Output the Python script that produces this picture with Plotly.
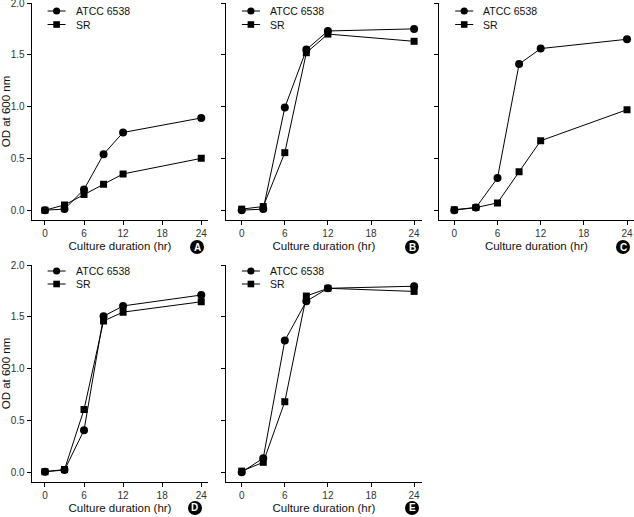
import plotly.graph_objects as go

hours = [0, 3, 6, 9, 12, 24]
x_ticks = [0, 6, 12, 18, 24]
y_ticks = [0.0, 0.5, 1.0, 1.5, 2.0]
y_tick_labels = ["0.0", "0.5", "1.0", "1.5", "2.0"]
panel_letters = ["A", "B", "C", "D", "E"]
series_names = ["ATCC 6538", "SR"]

atcc_A = [0.00, 0.01, 0.20, 0.54, 0.75, 0.89]
sr_A = [0.00, 0.05, 0.15, 0.25, 0.35, 0.50]
atcc_B = [0.00, 0.01, 0.99, 1.55, 1.73, 1.75]
sr_B = [0.01, 0.035, 0.555, 1.52, 1.70, 1.63]
atcc_C = [0.00, 0.025, 0.31, 1.41, 1.56, 1.65]
sr_C = [0.005, 0.025, 0.07, 0.37, 0.67, 0.97]
atcc_D = [0.005, 0.02, 0.405, 1.505, 1.605, 1.71]
sr_D = [0.005, 0.025, 0.605, 1.46, 1.545, 1.645]
atcc_E = [0.00, 0.135, 1.27, 1.65, 1.775, 1.795]
sr_E = [0.01, 0.095, 0.68, 1.70, 1.775, 1.745]

panels = [(atcc_A, sr_A), (atcc_B, sr_B), (atcc_C, sr_C), (atcc_D, sr_D), (atcc_E, sr_E)]

W, H = 634, 517
FONT = "Liberation Sans, Arial, sans-serif"

# pixel layout of each panel: (left, right, top, bottom)
boxes = [
    (31.6, 208.4, 3, 220),
    (225.9, 422, 3, 220),
    (439.2, 633.5, 3, 220),
    (31.6, 208.4, 265, 482),
    (225.9, 422, 265, 482),
]
xranges = [[-2.05, 25.1], [-2.2, 25.1], [-2.1, 24.9], [-2.05, 25.1], [-2.2, 25.1]]
badge_px = [(197, 247), (412, 247), (623, 247), (195, 508), (412, 508)]
legend_rows = [(11, 24.5), (11, 24.5), (11, 24.5), (271, 284), (271, 284)]

fig = go.Figure()
layout = dict(
    width=W, height=H, margin=dict(l=0, r=0, t=0, b=0),
    paper_bgcolor="white", plot_bgcolor="white",
    font=dict(family=FONT, size=10, color="#222"),
    showlegend=False,
    shapes=[], annotations=[],
)


def px(x, y):
    return x / W, 1 - y / H


for i, (atcc, sr) in enumerate(panels):
    n = "" if i == 0 else str(i + 1)
    xa, ya = "x" + n, "y" + n
    for name, vals, sym in [(series_names[0], atcc, "circle"), (series_names[1], sr, "square")]:
        fig.add_trace(go.Scatter(
            x=hours, y=vals, name=name, mode="lines+markers",
            xaxis=xa, yaxis=ya,
            line=dict(color="black", width=1),
            marker=dict(symbol=sym, size=8 if sym == "circle" else 7, color="black"),
        ))
    l, r, t, b = boxes[i]
    show_y = i in (0, 3)
    layout["xaxis" + n] = dict(
        domain=[l / W, r / W], range=xranges[i], anchor=ya, automargin=False,
        tickvals=x_ticks, ticks="outside", ticklen=4, tickcolor="black",
        showline=True, linecolor="black", linewidth=1, showgrid=False, zeroline=False,
        tickfont=dict(size=10, color="#333"), ticklabeloverflow="allow",
        title=dict(text="Culture duration (hr)", font=dict(size=11.5, color="#111"), standoff=3),
    )
    layout["yaxis" + n] = dict(
        domain=[1 - b / H, 1 - t / H], range=[-0.095, 2.0], anchor=xa, automargin=False,
        tickvals=y_ticks, ticktext=y_tick_labels if show_y else [""] * 5,
        ticks="outside", ticklen=4, tickcolor="black",
        showline=True, linecolor="black", linewidth=1, showgrid=False, zeroline=False,
        tickfont=dict(size=10, color="#333"), ticklabeloverflow="allow",
        title=dict(text="OD at 600 nm" if show_y else "", font=dict(size=11.5, color="#111"), standoff=2),
    )
    # legend (drawn as symbols + text inside each panel)
    for row, (name, sym) in enumerate([(series_names[0], "circle"), (series_names[1], "rect")]):
        ly = legend_rows[i][row]
        ax, ay = px(l + 25, ly)
        layout["shapes"].append(dict(
            type="line", xref="paper", yref="paper", xsizemode="pixel", ysizemode="pixel",
            xanchor=ax, yanchor=ay, x0=-9, x1=9, y0=0, y1=0,
            line=dict(color="black", width=1),
        ))
        s = 3.6 if sym == "circle" else 3.3
        layout["shapes"].append(dict(
            type=sym, xref="paper", yref="paper", xsizemode="pixel", ysizemode="pixel",
            xanchor=ax, yanchor=ay, x0=-s, x1=s, y0=-s, y1=s,
            fillcolor="black", line=dict(color="black", width=0),
        ))
        tx, ty = px(l + 42, ly)
        layout["annotations"].append(dict(
            x=tx, y=ty, xref="paper", yref="paper", text=name, showarrow=False,
            xanchor="left", yanchor="middle", font=dict(size=10.5, color="#111"),
        ))
    bx, by = px(*badge_px[i])
    layout["shapes"].append(dict(
        type="circle", xref="paper", yref="paper",
        xsizemode="pixel", ysizemode="pixel",
        xanchor=bx, yanchor=by,
        x0=-7, x1=7, y0=-7, y1=7,
        fillcolor="black", line=dict(color="black", width=0),
    ))
    layout["annotations"].append(dict(
        x=bx, y=by, xref="paper", yref="paper",
        text="<b>" + panel_letters[i] + "</b>", showarrow=False,
        font=dict(size=10, color="white", family=FONT),
        xanchor="center", yanchor="middle",
    ))

fig.update_layout(**layout)
fig.write_html(
    "out.html",
    config={"displayModeBar": False},
    post_script="document.body.style.margin='0';document.body.style.overflow='hidden';",
)
